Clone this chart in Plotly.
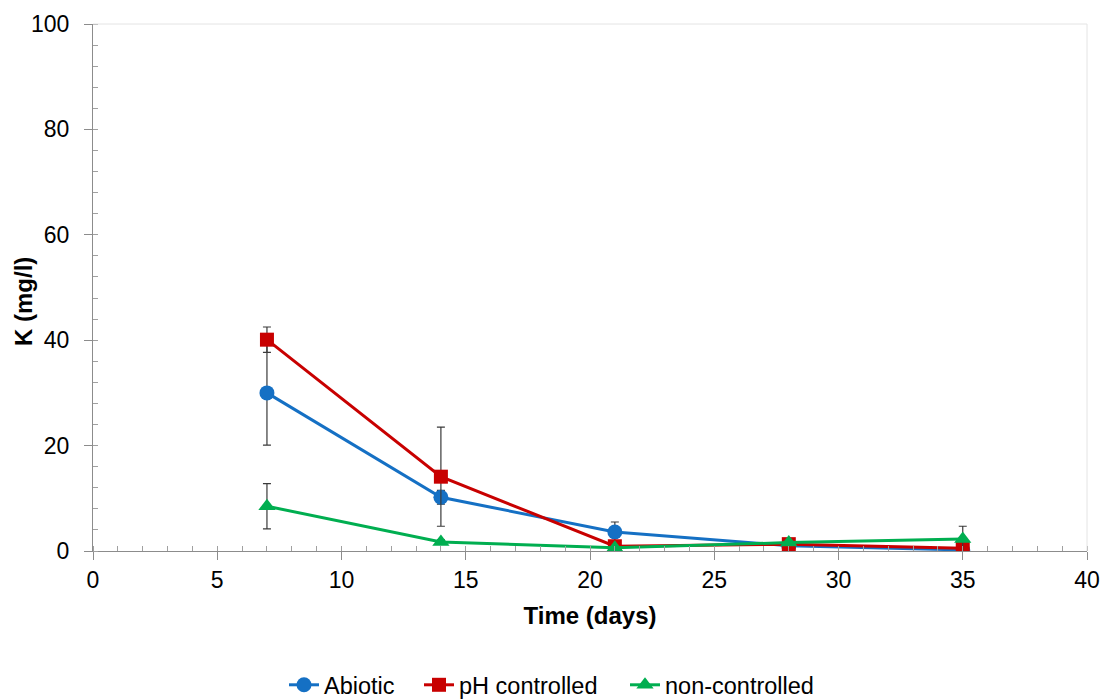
import plotly.graph_objects as go

# Sampling days
days = [7, 14, 21, 28, 35]

# Potassium concentration (mg/l) and standard deviations
abiotic = [30.0, 10.2, 3.6, 1.0, 0.2]
abiotic_sd = [9.9, 1.3, 1.9, 0.3, 0.3]

ph_controlled = [40.1, 14.1, 0.9, 1.3, 0.5]
ph_controlled_sd = [2.4, 9.4, 0.3, 0.3, 0.3]

non_controlled = [8.5, 1.7, 0.6, 1.6, 2.3]
non_controlled_sd = [4.3, 0.4, 0.3, 0.3, 2.4]

series = [
    ("Abiotic", abiotic, abiotic_sd, "#1570C4", "circle", 15),
    ("pH controlled", ph_controlled, ph_controlled_sd, "#C80000", "square", 14),
    ("non-controlled", non_controlled, non_controlled_sd, "#00AE50", "triangle-up", 15),
]

font_family = "Liberation Sans, Arial, sans-serif"
W, H = 1103, 699
L, R, T, B = 93, 16, 24, 148
plot_w = W - L - R
plot_h = H - T - B

# One legend box per series, laid out in a row under the chart
legend_ids = ["legend", "legend2", "legend3"]
legend_left_px = [284, 419, 625]

fig = go.Figure()
for (name, vals, sd, color, symbol, size), lid in zip(series, legend_ids):
    fig.add_trace(go.Scatter(
        x=days, y=vals, name=name, mode="lines+markers", legend=lid,
        line=dict(color=color, width=3),
        marker=dict(symbol=symbol, size=size, color=color),
        error_y=dict(type="data", array=sd, visible=True,
                     color="#3a3a3a", thickness=1.2, width=4),
    ))

legend_style = dict(orientation="h", xref="container", xanchor="left",
                    yref="container", y=0.02, yanchor="middle",
                    font=dict(size=23.5), itemwidth=30,
                    bgcolor="rgba(0,0,0,0)")

fig.update_layout(
    width=W, height=H,
    margin=dict(l=L, r=R, t=T, b=B, autoexpand=False),
    paper_bgcolor="white", plot_bgcolor="white",
    font=dict(family=font_family, size=23, color="#000000"),
    showlegend=True,
    **{lid: dict(legend_style, x=px / W) for lid, px in zip(legend_ids, legend_left_px)},
    xaxis=dict(
        range=[0, 40], dtick=5, tick0=0, automargin=False,
        showgrid=False, zeroline=False,
        showline=True, linecolor="#8c8c8c", linewidth=1.3,
        ticks="outside", ticklen=8, tickcolor="#8c8c8c", tickwidth=1.3,
        minor=dict(dtick=1, ticks="inside", ticklen=5, tickcolor="#a0a0a0", tickwidth=1),
        tickfont=dict(size=23),
        title=dict(text="<b>Time (days)</b>", font=dict(size=24), standoff=15),
    ),
    yaxis=dict(
        range=[0, 100], dtick=20, tick0=0, automargin=False,
        showgrid=False, zeroline=False,
        showline=True, linecolor="#8c8c8c", linewidth=1.3,
        ticks="outside", ticklen=8, tickcolor="#8c8c8c", tickwidth=1.3,
        ticklabelstandoff=10,
        minor=dict(dtick=4, ticks="inside", ticklen=5, tickcolor="#a0a0a0", tickwidth=1),
        tickfont=dict(size=23),
    ),
)

# Vertical axis title
fig.add_annotation(
    text="<b>K (mg/l)</b>", textangle=-90, font=dict(size=24),
    xref="paper", yref="paper", x=(23 - L) / plot_w, y=(H - B - 302) / plot_h,
    xanchor="center", yanchor="middle", showarrow=False,
)

# Light frame on the top and right edges of the plotting area
fig.add_shape(type="line", xref="paper", yref="paper", x0=0, x1=1, y0=1, y1=1,
              line=dict(color="#e4e4e4", width=1))
fig.add_shape(type="line", xref="paper", yref="paper", x0=1, x1=1, y0=0, y1=1,
              line=dict(color="#e4e4e4", width=1))

fig.write_html("out.html")
